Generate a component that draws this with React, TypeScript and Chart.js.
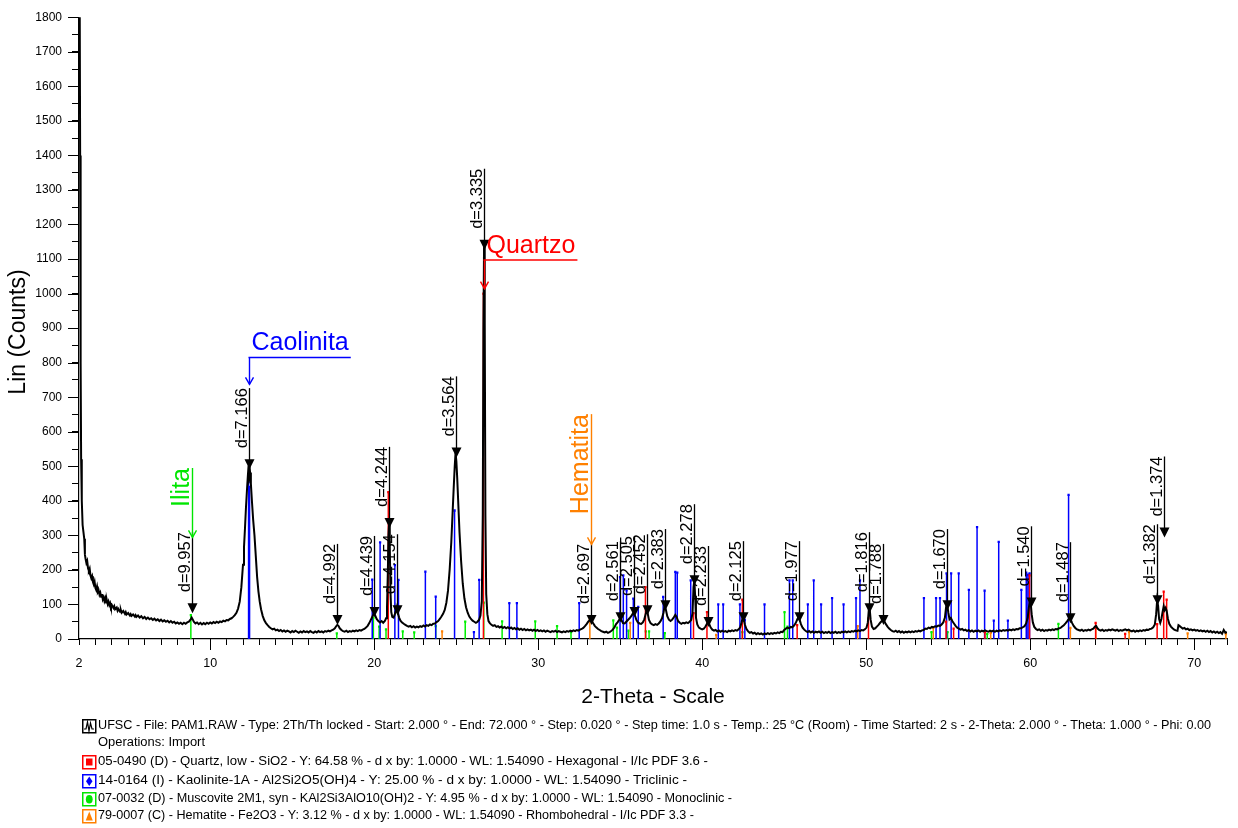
import { useEffect, useRef } from 'react';
import { Chart, registerables } from 'chart.js';

Chart.register(...registerables);

const FONT = '"Liberation Sans", Arial, Helvetica, sans-serif';

// ---- Measured scan: [2-Theta (deg), Lin (Counts)] ----
const scanLowAngle: [number, number][] = [
  [2.0, 1950], [2.04, 1900], [2.07, 1400], [2.1, 800], [2.13, 520], [2.17, 400], [2.22, 330], [2.27, 310],
  [2.32, 290], [2.36, 245], [2.4, 232], [2.45, 220], [2.5, 226], [2.55, 205], [2.6, 198], [2.65, 204],
  [2.7, 184], [2.75, 176], [2.8, 182], [2.85, 165], [2.9, 158], [2.95, 166], [3.0, 148], [3.05, 142],
  [3.1, 152], [3.15, 136], [3.2, 140], [3.25, 128], [3.3, 134], [3.35, 122], [3.4, 130], [3.45, 115],
  [3.5, 121], [3.55, 110], [3.6, 118], [3.65, 106], [3.7, 112], [3.75, 101], [3.8, 108], [3.85, 98],
  [3.9, 104], [3.95, 93], [4.0, 99], [4.1, 90], [4.15, 95], [4.2, 86], [4.3, 91], [4.35, 82],
  [4.4, 87], [4.5, 79], [4.55, 84], [4.6, 76], [4.7, 81], [4.8, 73], [4.85, 78], [4.9, 71],
  [5.0, 75], [5.1, 68], [5.15, 72], [5.2, 67], [5.3, 71], [5.4, 65], [5.45, 69], [5.5, 64],
  [5.6, 68], [5.7, 62], [5.8, 66], [5.9, 60], [6.0, 64], [6.1, 58], [6.2, 62], [6.3, 57],
  [6.4, 60], [6.5, 55], [6.6, 59], [6.7, 54], [6.8, 57], [6.9, 52], [7.0, 56], [7.1, 51],
  [7.2, 54], [7.3, 50], [7.4, 53], [7.5, 48], [7.6, 52], [7.7, 47], [7.8, 50], [7.9, 45],
  [8.0, 48], [8.1, 44], [8.2, 47], [8.3, 43], [8.4, 47], [8.5, 44], [8.6, 48], [8.7, 50],
  [8.8, 56], [8.87, 62], [8.94, 56], [9.0, 50], [9.1, 45], [9.2, 48], [9.3, 43], [9.4, 47],
  [9.5, 42], [9.6, 46], [9.7, 43], [9.8, 47], [9.9, 44], [10.0, 48], [10.1, 45], [10.2, 49],
  [10.3, 46], [10.4, 50], [10.5, 47], [10.6, 51], [10.7, 49], [10.8, 53], [10.9, 51], [11.0, 55],
  [11.1, 54], [11.2, 58], [11.3, 60], [11.4, 64], [11.5, 69],
];

const scanKaoliniteQuartz: [number, number][] = [
  [11.6, 76], [11.7, 88], [11.8, 108], [11.9, 150], [12.0, 215], [12.06, 265], [12.12, 320], [12.18, 380],
  [12.24, 430], [12.3, 475], [12.34, 502], [12.38, 468], [12.43, 482], [12.48, 450], [12.55, 395], [12.62, 345],
  [12.7, 300], [12.78, 240], [12.86, 180], [12.94, 138], [13.02, 108], [13.1, 86], [13.2, 67], [13.3, 54],
  [13.4, 46], [13.5, 40], [13.6, 35], [13.7, 31], [13.8, 28], [13.9, 30], [14.0, 25], [14.1, 27],
  [14.2, 23], [14.3, 26], [14.4, 22], [14.5, 25], [14.6, 21], [14.7, 24], [14.8, 22], [14.9, 19],
  [15.0, 23], [15.1, 20], [15.2, 24], [15.3, 21], [15.4, 18], [15.5, 22], [15.6, 19], [15.7, 23],
  [15.8, 20], [15.9, 22], [16.0, 19], [16.1, 23], [16.2, 20], [16.3, 18], [16.4, 22], [16.5, 19],
  [16.6, 23], [16.7, 20], [16.8, 22], [16.9, 19], [17.0, 23], [17.1, 21], [17.2, 24], [17.3, 22],
  [17.4, 25], [17.5, 27], [17.6, 31], [17.68, 37], [17.75, 41], [17.82, 38], [17.9, 31], [18.0, 26],
  [18.1, 23], [18.2, 21], [18.3, 24], [18.4, 20], [18.5, 23], [18.6, 21], [18.7, 24], [18.8, 22],
  [18.9, 25], [19.0, 23], [19.1, 26], [19.2, 24], [19.3, 27], [19.4, 29], [19.5, 33], [19.6, 38],
  [19.7, 46], [19.8, 56], [19.9, 66], [19.98, 74], [20.06, 68], [20.15, 58], [20.25, 52], [20.35, 48],
  [20.45, 52], [20.55, 47], [20.65, 52], [20.72, 60], [20.78, 90], [20.83, 190], [20.87, 300], [20.91, 338],
  [20.95, 270], [20.99, 140], [21.04, 78], [21.1, 64], [21.18, 62], [21.26, 72], [21.33, 84], [21.38, 86],
  [21.45, 74], [21.52, 62], [21.6, 53], [21.7, 48], [21.8, 44], [21.9, 41], [22.0, 38], [22.1, 36],
  [22.2, 38], [22.3, 34], [22.4, 37], [22.5, 33], [22.6, 36], [22.7, 34], [22.8, 37], [22.9, 35],
  [23.0, 39], [23.1, 36], [23.2, 40], [23.3, 38], [23.4, 42], [23.5, 40], [23.6, 44], [23.7, 45],
  [23.8, 49], [23.9, 52], [24.0, 58], [24.1, 65], [24.2, 73], [24.3, 84], [24.4, 105], [24.5, 140],
  [24.6, 200], [24.7, 280], [24.78, 365], [24.85, 440], [24.91, 500], [24.96, 538], [25.01, 515], [25.06, 468],
  [25.12, 400], [25.2, 310], [25.3, 225], [25.4, 160], [25.5, 118], [25.6, 92], [25.7, 76], [25.8, 65],
  [25.9, 58], [26.0, 53], [26.1, 50], [26.2, 47], [26.3, 50], [26.4, 56], [26.48, 68], [26.56, 110],
  [26.62, 360], [26.66, 900], [26.7, 1150], [26.74, 920], [26.78, 360], [26.83, 130], [26.9, 72], [26.97, 52],
];

const scanMidAngle: [number, number][] = [
  [27.05, 46], [27.15, 41], [27.25, 38], [27.35, 40], [27.45, 35], [27.55, 37], [27.65, 33], [27.75, 36],
  [27.85, 32], [27.95, 35], [28.05, 31], [28.15, 34], [28.25, 30], [28.35, 33], [28.45, 29], [28.55, 32],
  [28.65, 28], [28.75, 31], [28.85, 27], [28.95, 30], [29.05, 26], [29.15, 29], [29.25, 25], [29.35, 28],
  [29.45, 25], [29.55, 27], [29.65, 24], [29.75, 27], [29.85, 23], [29.95, 26], [30.05, 23], [30.15, 25],
  [30.25, 22], [30.35, 25], [30.45, 21], [30.55, 24], [30.65, 22], [30.75, 20], [30.85, 23], [30.95, 21],
  [31.05, 24], [31.15, 20], [31.25, 23], [31.35, 21], [31.45, 19], [31.55, 22], [31.65, 20], [31.75, 23],
  [31.85, 21], [31.95, 24], [32.05, 22], [32.15, 25], [32.25, 23], [32.35, 26], [32.45, 24], [32.55, 27],
  [32.65, 29], [32.75, 32], [32.85, 37], [32.95, 43], [33.05, 50], [33.13, 54], [33.2, 56], [33.28, 51],
  [33.36, 45], [33.45, 38], [33.55, 33], [33.65, 29], [33.75, 26], [33.85, 23], [33.95, 21], [34.05, 19],
  [34.15, 21], [34.25, 18], [34.35, 20], [34.45, 23], [34.55, 27], [34.65, 34], [34.75, 43], [34.85, 49],
  [34.93, 55], [35.01, 61], [35.08, 54], [35.17, 46], [35.27, 45], [35.37, 50], [35.47, 55], [35.57, 60],
  [35.67, 66], [35.75, 72], [35.82, 77], [35.9, 68], [35.98, 56], [36.08, 48], [36.18, 45], [36.28, 44],
  [36.38, 48], [36.47, 57], [36.55, 72], [36.61, 83], [36.67, 76], [36.75, 56], [36.85, 46], [36.95, 42],
  [37.05, 40], [37.15, 43], [37.25, 41], [37.35, 45], [37.45, 51], [37.55, 60], [37.64, 76], [37.71, 96],
  [37.78, 86], [37.87, 66], [37.97, 56], [38.07, 52], [38.17, 56], [38.27, 63], [38.36, 70], [38.44, 64],
  [38.53, 52], [38.63, 47], [38.73, 44], [38.83, 47], [38.93, 45], [39.03, 48], [39.13, 46], [39.23, 50],
  [39.33, 55], [39.41, 75], [39.47, 150], [39.52, 170], [39.57, 125], [39.62, 62], [39.7, 42], [39.8, 33],
  [39.9, 30], [40.0, 28], [40.1, 30], [40.2, 36], [40.29, 44], [40.36, 49], [40.43, 43], [40.52, 33],
  [40.62, 27], [40.72, 24], [40.82, 26], [40.92, 22], [41.02, 25], [41.12, 21], [41.22, 24], [41.32, 21],
  [41.42, 23], [41.52, 20], [41.62, 24], [41.72, 22], [41.82, 25], [41.92, 23], [42.02, 26], [42.12, 24],
  [42.22, 28], [42.32, 34], [42.4, 48], [42.47, 62], [42.53, 58], [42.6, 42], [42.7, 29], [42.8, 22],
  [42.9, 18], [43.0, 20], [43.1, 16], [43.2, 18], [43.3, 14], [43.4, 17], [43.5, 14], [43.6, 16],
  [43.7, 13], [43.8, 16], [43.9, 14], [44.0, 17], [44.1, 14], [44.2, 17], [44.3, 15], [44.4, 18],
  [44.5, 16], [44.6, 19], [44.7, 17], [44.8, 21], [44.9, 20], [45.0, 26], [45.1, 30], [45.2, 33],
  [45.3, 31], [45.4, 35], [45.5, 34], [45.6, 39], [45.7, 46], [45.8, 57], [45.87, 63], [45.94, 56],
  [46.02, 43], [46.12, 33], [46.22, 27], [46.32, 23], [46.42, 20], [46.52, 23], [46.62, 19], [46.72, 22],
  [46.82, 18], [46.92, 21], [47.02, 19], [47.12, 22], [47.22, 18], [47.32, 21], [47.42, 17], [47.52, 20],
  [47.62, 18], [47.72, 21], [47.82, 17], [47.92, 20], [48.02, 18], [48.12, 21], [48.22, 17], [48.32, 20],
  [48.42, 18], [48.52, 21], [48.62, 19], [48.72, 22], [48.82, 19], [48.92, 22], [49.02, 20], [49.12, 23],
  [49.22, 21], [49.32, 24], [49.42, 22], [49.52, 25], [49.62, 23], [49.72, 26], [49.82, 25], [49.92, 28],
];

const scanHighAngle: [number, number][] = [
  [50.02, 33], [50.1, 48], [50.16, 85], [50.21, 89], [50.27, 56], [50.35, 36], [50.45, 29], [50.55, 31],
  [50.65, 36], [50.75, 41], [50.85, 47], [50.95, 52], [51.04, 56], [51.12, 50], [51.2, 43], [51.3, 36],
  [51.4, 30], [51.5, 26], [51.6, 23], [51.7, 21], [51.8, 24], [51.9, 20], [52.0, 23], [52.1, 19],
  [52.2, 22], [52.3, 18], [52.4, 21], [52.5, 19], [52.6, 22], [52.7, 19], [52.8, 22], [52.9, 20],
  [53.0, 23], [53.1, 21], [53.2, 24], [53.3, 22], [53.4, 25], [53.5, 26], [53.6, 30], [53.7, 29],
  [53.8, 33], [53.9, 31], [54.0, 35], [54.1, 34], [54.2, 37], [54.3, 36], [54.4, 39], [54.5, 38],
  [54.6, 42], [54.7, 48], [54.8, 62], [54.87, 92], [54.94, 100], [55.01, 76], [55.08, 57], [55.16, 61],
  [55.25, 52], [55.35, 45], [55.45, 38], [55.55, 33], [55.65, 30], [55.75, 27], [55.85, 29], [55.95, 25],
  [56.05, 27], [56.15, 23], [56.25, 26], [56.35, 22], [56.45, 25], [56.55, 21], [56.65, 24], [56.75, 22],
  [56.85, 25], [56.95, 21], [57.05, 24], [57.15, 22], [57.25, 25], [57.35, 23], [57.45, 21], [57.55, 24],
  [57.65, 22], [57.75, 24], [57.85, 21], [57.95, 24], [58.05, 22], [58.15, 25], [58.25, 23], [58.35, 26],
  [58.45, 24], [58.55, 26], [58.65, 24], [58.75, 27], [58.85, 25], [58.95, 28], [59.05, 26], [59.15, 29],
  [59.25, 28], [59.35, 31], [59.45, 31], [59.55, 34], [59.65, 37], [59.75, 45], [59.85, 62], [59.92, 92],
  [59.98, 108], [60.03, 104], [60.09, 72], [60.16, 48], [60.25, 35], [60.35, 29], [60.45, 26], [60.55, 28],
  [60.65, 24], [60.75, 27], [60.85, 23], [60.95, 26], [61.05, 24], [61.15, 27], [61.25, 25], [61.35, 28],
  [61.45, 26], [61.55, 29], [61.65, 28], [61.75, 31], [61.85, 32], [61.95, 36], [62.05, 40], [62.15, 45],
  [62.25, 51], [62.33, 57], [62.4, 60], [62.48, 55], [62.56, 46], [62.65, 38], [62.75, 32], [62.85, 28],
  [62.95, 26], [63.05, 24], [63.15, 27], [63.25, 23], [63.35, 26], [63.45, 24], [63.55, 27], [63.65, 25],
  [63.75, 28], [63.85, 30], [63.95, 36], [64.02, 38], [64.1, 31], [64.2, 26], [64.3, 24], [64.4, 27],
  [64.5, 23], [64.6, 26], [64.7, 24], [64.8, 27], [64.9, 25], [65.0, 28], [65.1, 26], [65.2, 24],
  [65.3, 27], [65.4, 23], [65.5, 26], [65.6, 24], [65.7, 26], [65.8, 28], [65.9, 25], [66.0, 27],
  [66.1, 24], [66.2, 22], [66.3, 25], [66.4, 21], [66.5, 24], [66.6, 22], [66.7, 25], [66.8, 23],
  [66.9, 26], [67.0, 24], [67.1, 27], [67.2, 26], [67.3, 29], [67.4, 30], [67.5, 34], [67.6, 42],
  [67.68, 72], [67.74, 112], [67.8, 96], [67.86, 58], [67.93, 47], [68.0, 58], [68.07, 78], [68.14, 95],
  [68.2, 84], [68.26, 90], [68.32, 82], [68.4, 58], [68.48, 44], [68.58, 36], [68.68, 31], [68.78, 27],
  [68.88, 25], [68.98, 24], [69.04, 40], [69.1, 38], [69.2, 34], [69.3, 30], [69.4, 32], [69.5, 28],
  [69.6, 30], [69.7, 26], [69.8, 28], [69.9, 25], [70.0, 27], [70.1, 24], [70.2, 26], [70.3, 23],
  [70.4, 25], [70.5, 22], [70.6, 24], [70.7, 21], [70.8, 24], [70.9, 20], [71.0, 23], [71.1, 19],
  [71.2, 22], [71.3, 18], [71.4, 21], [71.5, 17], [71.6, 20], [71.7, 15], [71.8, 26], [71.9, 18],
  [72.0, 20],
];

// ---- Reference patterns (stick positions / heights) ----
const quartzSticks: [number, number][] = [
  [20.86, 425], [26.66, 1000], [36.54, 150], [39.47, 75], [40.29, 78], [42.45, 114], [45.79, 40],
  [50.14, 60], [54.87, 50], [55.33, 30], [57.24, 20], [59.96, 184], [63.99, 47], [65.79, 15],
  [67.74, 43], [68.14, 137], [68.32, 114],
];
const kaoliniteSticks: [number, number][] = [
  [12.34, 455], [12.4, 440], [19.88, 172], [20.36, 280], [21.26, 214], [21.48, 171], [23.12, 195],
  [23.75, 123], [24.9, 372], [26.08, 20], [26.4, 171], [28.24, 104], [28.7, 104], [32.5, 104],
  [34.99, 179], [35.19, 184], [35.39, 141], [35.8, 117], [36.1, 93], [37.62, 122], [38.36, 194],
  [38.48, 192], [39.3, 170], [40.98, 100], [41.28, 100], [42.3, 100], [42.6, 55], [43.8, 100],
  [45.32, 170], [45.52, 170], [46.44, 100], [46.8, 170], [47.25, 100], [47.92, 118], [48.62, 100],
  [49.38, 118], [49.62, 170], [53.52, 118], [54.26, 118], [54.5, 118], [54.9, 190], [55.18, 190],
  [55.64, 190], [56.26, 142], [56.76, 324], [57.22, 140], [57.78, 53], [58.08, 281], [58.64, 53],
  [59.46, 142], [59.76, 192], [59.86, 186], [59.96, 190], [62.34, 417],
];
const muscoviteSticks: [number, number][] = [
  [8.82, 69], [17.72, 16], [19.95, 62], [20.3, 36], [20.72, 28], [21.74, 22], [22.44, 19], [23.75, 37],
  [25.55, 50], [26.68, 105], [27.8, 51], [29.82, 51], [31.15, 37], [32.0, 20], [34.58, 54], [34.8, 33],
  [35.5, 24], [36.56, 22], [36.76, 22], [37.72, 17], [42.45, 20], [45.02, 78], [45.2, 36], [53.98, 20],
  [54.96, 20], [57.38, 15], [61.72, 44],
];
const hematiteSticks: [number, number][] = [
  [24.14, 22], [33.15, 58], [35.61, 47], [40.85, 12], [49.48, 37], [54.09, 32], [57.59, 18],
  [62.45, 32], [64.0, 32], [66.03, 20], [69.6, 16], [71.93, 14],
];

// ---- d-spacing peak labels ----
const peakLabels = [
  'd=9.957', 'd=7.166', 'd=4.992', 'd=4.439', 'd=4.244', 'd=4.154', 'd=3.564', 'd=3.335',
  'd=2.697', 'd=2.561', 'd=2.505', 'd=2.452', 'd=2.383', 'd=2.278', 'd=2.233', 'd=2.125',
  'd=1.977', 'd=1.816', 'd=1.788', 'd=1.670', 'd=1.540', 'd=1.487', 'd=1.382', 'd=1.374',
];
const peakTheta = [
  8.874, 12.342, 17.753, 19.986, 20.915, 21.373, 24.964, 26.708,
  33.194, 35.008, 35.814, 36.612, 37.708, 39.518, 40.352, 42.51,
  45.877, 50.198, 51.04, 54.941, 60.026, 62.397, 67.738, 68.186,
];
const peakMarkCounts = [
  89, 506, 55, 78, 336, 83, 540, 1141,
  55, 63, 78, 83, 98, 170, 49, 63,
  63, 89, 55, 98, 106, 60, 112, 308,
];

// ---- Phase names ----
const phaseNames = ['Quartzo', 'Caolinita', 'Ilita', 'Hematita'];
const phaseColors = ['#ff0000', '#0000ff', '#00e600', '#ff8000'];
const phaseTheta = [26.708, 12.342, 8.874, 33.194];
const phaseTopCounts = [1097, 815, 495, 651];
const phaseTipCounts = [1014, 737, 294, 274];
const phaseHorizontal = [true, true, false, false];

// ---- Axis ticks ----
const xTickLabels = [2, 10, 20, 30, 40, 50, 60, 70];
const xMajorTicks = [10, 20, 30, 40, 50, 60, 70];

// ---- Footer legend ----
const legendTexts = [
  'UFSC - File: PAM1.RAW - Type: 2Th/Th locked - Start: 2.000 ° - End: 72.000 ° - Step: 0.020 ° - Step time: 1.0 s - Temp.: 25 °C (Room) - Time Started: 2 s - 2-Theta: 2.000 ° - Theta: 1.000 ° - Phi: 0.00',
  'Operations: Import',
  '05-0490 (D) - Quartz, low - SiO2 - Y: 64.58 % - d x by: 1.0000 - WL: 1.54090 - Hexagonal - I/Ic PDF 3.6 -',
  '14-0164 (I) - Kaolinite-1A - Al2Si2O5(OH)4 - Y: 25.00 % - d x by: 1.0000 - WL: 1.54090 - Triclinic -',
  '07-0032 (D) - Muscovite 2M1, syn - KAl2Si3AlO10(OH)2 - Y: 4.95 % - d x by: 1.0000 - WL: 1.54090 - Monoclinic -',
  '79-0007 (C) - Hematite - Fe2O3 - Y: 3.12 % - d x by: 1.0000 - WL: 1.54090 - Rhombohedral - I/Ic PDF 3.3 -',
];
const legendIcons = ['scan', '', 'square', 'diamond', 'circle', 'triangle'];
const legendColors = ['#000000', '', '#ff0000', '#0000ff', '#00e600', '#ff8000'];

const toPoints = (rows: [number, number][]) => rows.map(([x, y]) => ({ x, y }));
const toSticks = (rows: [number, number][]) =>
  rows.flatMap(([x, h]) => [{ x, y: 0 }, { x, y: h }, { x, y: null as number | null }]);

function stickDataset(rows: [number, number][], color: string, order: number) {
  return {
    data: toSticks(rows),
    showLine: true,
    spanGaps: false,
    borderColor: color,
    backgroundColor: color,
    borderWidth: 1.5,
    pointStyle: 'rect' as const,
    pointRadius: (c: any) => (c.raw && c.raw.y > 0 ? 1.6 : 0),
    pointBorderWidth: 0,
    order,
  };
}

function arrowHead(ctx: CanvasRenderingContext2D, x: number, tip: number) {
  ctx.beginPath();
  ctx.moveTo(x - 4, tip - 7);
  ctx.lineTo(x, tip);
  ctx.lineTo(x + 4, tip - 7);
  ctx.stroke();
}

const decorPlugin = {
  id: 'xrdDecor',
  afterDatasetsDraw(chart: any) {
    const { ctx, scales } = chart;
    const xs = scales.x;
    const ys = scales.y;
    ctx.save();

    // d-spacing markers: line, down-triangle on the peak, rotated label
    ctx.font = `16.5px ${FONT}`;
    peakLabels.forEach((label, i) => {
      const px = Math.round(xs.getPixelForValue(peakTheta[i])) + 0.5;
      const py = ys.getPixelForValue(peakMarkCounts[i]);
      const w = ctx.measureText(label).width;
      const textBottom = py - 16;
      const top = textBottom - w;
      ctx.strokeStyle = '#000';
      ctx.fillStyle = '#000';
      ctx.lineWidth = 1.3;
      ctx.beginPath();
      ctx.moveTo(px, top);
      ctx.lineTo(px, py);
      ctx.stroke();
      ctx.beginPath();
      ctx.moveTo(px - 5, py - 5);
      ctx.lineTo(px + 5, py - 5);
      ctx.lineTo(px, py + 5);
      ctx.closePath();
      ctx.fill();
      ctx.save();
      ctx.translate(px - 3, textBottom);
      ctx.rotate(-Math.PI / 2);
      ctx.textAlign = 'left';
      ctx.textBaseline = 'alphabetic';
      ctx.fillText(label, 0, 0);
      ctx.restore();
    });

    // phase names with pointer arrows
    ctx.font = `25px ${FONT}`;
    phaseNames.forEach((name, i) => {
      const color = phaseColors[i];
      const px = Math.round(xs.getPixelForValue(phaseTheta[i])) + 0.5;
      const top = ys.getPixelForValue(phaseTopCounts[i]);
      const tip = ys.getPixelForValue(phaseTipCounts[i]);
      const w = ctx.measureText(name).width;
      ctx.strokeStyle = color;
      ctx.fillStyle = color;
      ctx.lineWidth = 1.4;
      ctx.beginPath();
      ctx.moveTo(px, top);
      ctx.lineTo(px, tip);
      ctx.stroke();
      arrowHead(ctx, px, tip);
      if (phaseHorizontal[i]) {
        ctx.beginPath();
        ctx.moveTo(px - 1, top);
        ctx.lineTo(px + w + 4, top);
        ctx.stroke();
        ctx.textAlign = 'left';
        ctx.textBaseline = 'alphabetic';
        ctx.fillText(name, px + 2, top - 7);
      } else {
        ctx.save();
        ctx.translate(px - 4, top);
        ctx.rotate(-Math.PI / 2);
        ctx.textAlign = 'right';
        ctx.textBaseline = 'alphabetic';
        ctx.fillText(name, 0, 0);
        ctx.restore();
      }
    });
    ctx.restore();
  },
  afterDraw(chart: any) {
    const { ctx, scales, chartArea } = chart;
    const xs = scales.x;
    const ys = scales.y;
    ctx.save();
    ctx.strokeStyle = '#000';
    ctx.lineWidth = 1;
    // longer major ticks
    xMajorTicks.forEach((v) => {
      const px = Math.round(xs.getPixelForValue(v)) + 0.5;
      ctx.beginPath();
      ctx.moveTo(px, chartArea.bottom);
      ctx.lineTo(px, chartArea.bottom + 11);
      ctx.stroke();
    });
    for (let v = 0; v <= 1800; v += 100) {
      const py = Math.round(ys.getPixelForValue(v)) + 0.5;
      ctx.beginPath();
      ctx.moveTo(chartArea.left - 11, py);
      ctx.lineTo(chartArea.left, py);
      ctx.stroke();
    }

    // axis titles
    ctx.fillStyle = '#000';
    ctx.font = `21px ${FONT}`;
    ctx.textAlign = 'center';
    ctx.textBaseline = 'middle';
    ctx.fillText('2-Theta - Scale', (chartArea.left + chartArea.right) / 2 + 0, 697);
    ctx.save();
    ctx.translate(19, 332);
    ctx.rotate(-Math.PI / 2);
    ctx.font = `23px ${FONT}`;
    ctx.fillText('Lin (Counts)', 0, 0);
    ctx.restore();

    // footer legend
    const rowsY = [726, 743, 762, 781, 799, 816];
    const rowsW = [1113, 107, 610, 589, 634, 596];
    ctx.font = `12px ${FONT}`;
    ctx.textAlign = 'left';
    ctx.textBaseline = 'middle';
    legendTexts.forEach((text, i) => {
      const y = rowsY[i];
      const natural = ctx.measureText(text).width;
      ctx.save();
      ctx.translate(98, y);
      ctx.scale(rowsW[i] / natural, 1);
      ctx.fillStyle = '#000';
      ctx.fillText(text, 0, 0);
      ctx.restore();
      const kind = legendIcons[i];
      if (!kind) return;
      const color = legendColors[i];
      const bx = 82;
      const by = y - 7;
      ctx.fillStyle = '#fff';
      ctx.fillRect(bx, by, 14, 14);
      ctx.strokeStyle = color;
      ctx.fillStyle = color;
      ctx.lineWidth = 1.5;
      ctx.strokeRect(bx + 0.75, by + 0.75, 13, 13);
      ctx.beginPath();
      if (kind === 'scan') {
        ctx.lineWidth = 1.2;
        ctx.moveTo(bx + 2, by + 10);
        ctx.lineTo(bx + 4, by + 10);
        ctx.lineTo(bx + 5.5, by + 3);
        ctx.lineTo(bx + 7, by + 12);
        ctx.lineTo(bx + 8.5, by + 4);
        ctx.lineTo(bx + 10, by + 10);
        ctx.lineTo(bx + 12, by + 10);
        ctx.stroke();
      } else if (kind === 'square') {
        ctx.fillRect(bx + 4, by + 3.5, 6.5, 7);
      } else if (kind === 'diamond') {
        ctx.moveTo(bx + 7.25, by + 2.5);
        ctx.lineTo(bx + 10.5, by + 7.25);
        ctx.lineTo(bx + 7.25, by + 12);
        ctx.lineTo(bx + 4, by + 7.25);
        ctx.closePath();
        ctx.fill();
      } else if (kind === 'circle') {
        ctx.ellipse(bx + 7.25, by + 7.25, 3.4, 4.3, 0, 0, Math.PI * 2);
        ctx.fill();
      } else if (kind === 'triangle') {
        ctx.moveTo(bx + 7.25, by + 2.5);
        ctx.lineTo(bx + 10.8, by + 11.5);
        ctx.lineTo(bx + 3.7, by + 11.5);
        ctx.closePath();
        ctx.fill();
      }
    });
    ctx.restore();
  },
};

export default function App() {
  const canvasRef = useRef<HTMLCanvasElement | null>(null);

  useEffect(() => {
    const canvas = canvasRef.current;
    if (!canvas) return;
    Chart.defaults.font.family = FONT;
    Chart.defaults.color = '#000';

    const scan = [...scanLowAngle, ...scanKaoliniteQuartz, ...scanMidAngle, ...scanHighAngle];

    const chart = new Chart(canvas, {
      type: 'scatter',
      data: {
        datasets: [
          {
            data: toPoints(scan),
            showLine: true,
            borderColor: '#000',
            borderWidth: 2,
            pointRadius: 0,
            tension: 0,
            order: 0,
          } as any,
          stickDataset(hematiteSticks, '#ff8000', 4) as any,
          stickDataset(muscoviteSticks, '#00f000', 3) as any,
          stickDataset(kaoliniteSticks, '#0000ff', 2) as any,
          stickDataset(quartzSticks, '#ff0000', 1) as any,
        ],
      },
      options: {
        responsive: false,
        maintainAspectRatio: false,
        animation: false,
        devicePixelRatio: 1,
        layout: { padding: { left: 0, right: 7.5, top: 14, bottom: 0 } },
        plugins: { legend: { display: false }, tooltip: { enabled: false } },
        scales: {
          x: {
            type: 'linear',
            min: 2,
            max: 72,
            afterFit: (s: any) => {
              s.height = 189;
            },
            afterBuildTicks: (s: any) => {
              const ticks = [];
              for (let v = 2; v <= 72; v += 1) ticks.push({ value: v });
              s.ticks = ticks;
            },
            ticks: {
              autoSkip: false,
              maxRotation: 0,
              padding: 11,
              font: { size: 12.5 },
              color: '#000',
              callback: (v: any) => (xTickLabels.includes(Number(v)) ? String(v) : ''),
            },
            grid: { display: true, drawOnChartArea: false, drawTicks: true, tickLength: 6, color: '#000' },
            border: { display: true, color: '#000', width: 1.2 },
          },
          y: {
            type: 'linear',
            min: 0,
            max: 1800,
            afterFit: (s: any) => {
              s.width = 79;
            },
            ticks: {
              stepSize: 50,
              autoSkip: false,
              padding: 10,
              font: { size: 12 },
              color: '#000',
              callback: (v: any) => (Number(v) % 100 === 0 ? String(v) : ''),
            },
            grid: { display: true, drawOnChartArea: false, drawTicks: true, tickLength: 7, color: '#000' },
            border: { display: true, color: '#000', width: 1.2 },
          },
        },
      },
      plugins: [decorPlugin],
    } as any);

    return () => chart.destroy();
  }, []);

  return (
    <div style={{ position: 'fixed', left: 0, top: 0, width: 1238, height: 828, background: '#fff' }}>
      <canvas ref={canvasRef} width={1238} height={828} style={{ display: 'block', width: 1238, height: 828 }} />
    </div>
  );
}
